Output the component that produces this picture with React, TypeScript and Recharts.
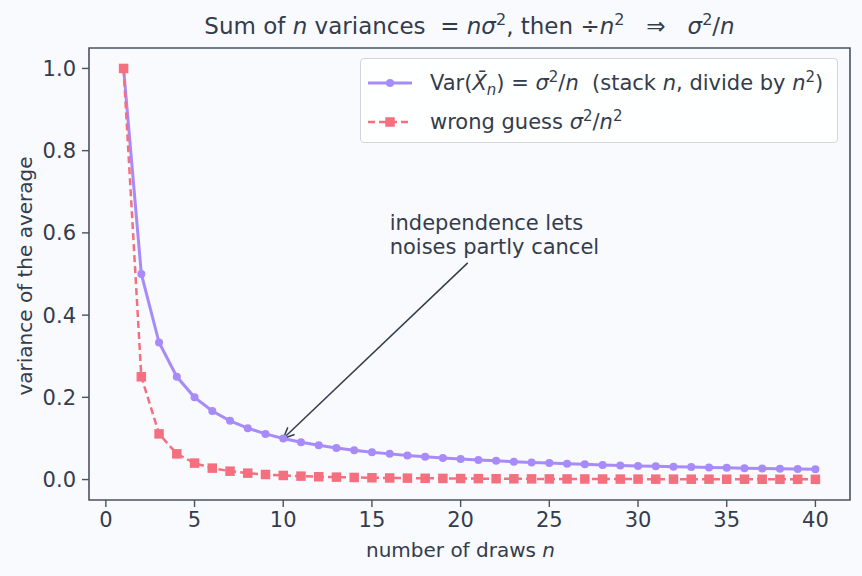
import React from "react";
import {
  LineChart,
  Line,
  XAxis,
  YAxis,
  ReferenceArea,
  ReferenceLine,
  ReferenceDot,
} from "recharts";

// draws n = 1..40
const draws = [
  1, 2, 3, 4, 5, 6, 7, 8, 9, 10, 11, 12, 13, 14, 15, 16, 17, 18, 19, 20,
  21, 22, 23, 24, 25, 26, 27, 28, 29, 30, 31, 32, 33, 34, 35, 36, 37, 38, 39, 40,
];

// Var(mean) = sigma^2 / n  (sigma^2 = 1)
const avgVariance = [
  1, 0.5, 0.3333, 0.25, 0.2, 0.1667, 0.1429, 0.125, 0.1111, 0.1,
  0.0909, 0.0833, 0.0769, 0.0714, 0.0667, 0.0625, 0.0588, 0.0556, 0.0526, 0.05,
  0.0476, 0.0455, 0.0435, 0.0417, 0.04, 0.0385, 0.037, 0.0357, 0.0345, 0.0333,
  0.0323, 0.0313, 0.0303, 0.0294, 0.0286, 0.0278, 0.027, 0.0263, 0.0256, 0.025,
];

// wrong guess sigma^2 / n^2
const wrongGuess = [
  1, 0.25, 0.1111, 0.0625, 0.04, 0.0278, 0.0204, 0.0156, 0.0123, 0.01,
  0.0083, 0.0069, 0.0059, 0.0051, 0.0044, 0.0039, 0.0035, 0.0031, 0.0028, 0.0025,
  0.0023, 0.0021, 0.0019, 0.0017, 0.0016, 0.0015, 0.0014, 0.0013, 0.0012, 0.0011,
  0.001, 0.001, 0.0009, 0.0009, 0.0008, 0.0008, 0.0007, 0.0007, 0.0007, 0.0006,
];

const xTicks = [0, 5, 10, 15, 20, 25, 30, 35, 40];
const yTicks = [0, 0.2, 0.4, 0.6, 0.8, 1.0];

const X_DOMAIN: [number, number] = [-0.95, 41.95];
const Y_DOMAIN: [number, number] = [-0.0497, 1.0497];

// arrow: from below the note to the point (10, 0.1)
const arrowFrom = { x: 20.4, y: 0.527 };
const arrowTo = { x: 10, y: 0.1 };
const noteAt = { x: 16, y: 0.55 };
const noteLines = ["independence lets", "noises partly cancel"];

const PURPLE = "#a78bfa";
const RED = "#f4707f";
const INK = "#343c4c";
const SPINE = "#4b5261";
const BG = "#f9fafd";
const FONT = "'DejaVu Sans', sans-serif";
const FS = 21;
const SUP = 15;

const data = draws.map((n, i) => ({ n, avg: avgVariance[i], wrong: wrongGuess[i] }));

function Square(props: any) {
  const { cx, cy } = props;
  if (cx == null || cy == null) return null;
  return <rect x={cx - 4.75} y={cy - 4.75} width={9.5} height={9.5} fill={RED} />;
}

function Arrow(props: any) {
  const { x1, y1, x2, y2 } = props;
  if (x1 == null) return null;
  const ang = Math.atan2(y2 - y1, x2 - x1);
  const len = 12;
  const spread = 0.42;
  const a1x = x2 - len * Math.cos(ang - spread);
  const a1y = y2 - len * Math.sin(ang - spread);
  const a2x = x2 - len * Math.cos(ang + spread);
  const a2y = y2 - len * Math.sin(ang + spread);
  return (
    <g stroke={INK} strokeWidth={1.5} fill="none">
      <line x1={x1} y1={y1} x2={x2} y2={y2} />
      <polyline points={`${a1x},${a1y} ${x2},${y2} ${a2x},${a2y}`} />
    </g>
  );
}

function Note(props: any) {
  const { cx, cy } = props;
  if (cx == null) return null;
  return (
    <text x={cx} y={cy} fill={INK} fontSize={FS} fontFamily={FONT}>
      {noteLines.map((t, i) => (
        <tspan key={t} x={cx} dy={i === 0 ? -23 : 24}>
          {t}
        </tspan>
      ))}
    </text>
  );
}

const sup = { fontSize: SUP, verticalAlign: "0.55em", lineHeight: 0 } as const;
const sub = { fontSize: SUP, verticalAlign: "-0.3em", lineHeight: 0 } as const;

function LegendBox() {
  return (
    <div
      style={{
        position: "absolute",
        left: 360,
        top: 58,
        width: 478,
        height: 85,
        border: "1px solid #d2d5dc",
        borderRadius: 4,
        background: "rgba(255,255,255,0.85)",
        fontFamily: FONT,
        fontSize: FS,
        color: INK,
        boxSizing: "border-box",
      }}
    >
      <div style={{ position: "absolute", left: 5, top: 11, height: 26, display: "flex", alignItems: "center" }}>
        <svg width={48} height={14}>
          <line x1={2} y1={7} x2={46} y2={7} stroke={PURPLE} strokeWidth={3} />
          <circle cx={24} cy={7} r={4} fill={PURPLE} />
        </svg>
        <span style={{ marginLeft: 16, whiteSpace: "nowrap", lineHeight: "26px" }}>
          Var(<i>X̄</i>
          <sub style={sub}>
            <i>n</i>
          </sub>
          ) = <i>σ</i>
          <sup style={sup}>2</sup>/<i>n</i>&nbsp; (stack <i>n</i>, divide by <i>n</i>
          <sup style={sup}>2</sup>)
        </span>
      </div>
      <div style={{ position: "absolute", left: 5, top: 50, height: 26, display: "flex", alignItems: "center" }}>
        <svg width={48} height={14}>
          <line x1={2} y1={7} x2={46} y2={7} stroke={RED} strokeWidth={2.5} strokeDasharray="7 4" />
          <rect x={19.25} y={2.25} width={9.5} height={9.5} fill={RED} />
        </svg>
        <span style={{ marginLeft: 16, whiteSpace: "nowrap", lineHeight: "26px" }}>
          wrong guess <i>σ</i>
          <sup style={sup}>2</sup>/<i>n</i>
          <sup style={sup}>2</sup>
        </span>
      </div>
    </div>
  );
}

export default function App() {
  return (
    <div
      style={{
        position: "absolute",
        left: 0,
        top: 0,
        width: 862,
        height: 576,
        background: BG,
        fontFamily: FONT,
        color: INK,
      }}
    >
      <div
        style={{
          position: "absolute",
          left: 89,
          width: 761,
          top: 12,
          textAlign: "center",
          fontSize: 23,
          lineHeight: "28px",
          whiteSpace: "nowrap",
        }}
      >
        Sum of <i>n</i> variances &nbsp;= <i>nσ</i>
        <sup style={{ ...sup, fontSize: 16 }}>2</sup>, then ÷<i>n</i>
        <sup style={{ ...sup, fontSize: 16 }}>2</sup>&nbsp;&nbsp; ⇒ &nbsp; <i>σ</i>
        <sup style={{ ...sup, fontSize: 16 }}>2</sup>/<i>n</i>
      </div>

      <LineChart
        width={862}
        height={576}
        data={data}
        margin={{ top: 48, right: 12, bottom: 36, left: 29 }}
        style={{ position: "absolute", left: 0, top: 0 }}
      >
        <XAxis
          dataKey="n"
          type="number"
          domain={X_DOMAIN}
          ticks={xTicks}
          allowDataOverflow
          height={40}
          tickSize={7}
          tickMargin={5}
          axisLine={false}
          tickLine={{ stroke: SPINE, strokeWidth: 1.4 }}
          tick={{ fill: INK, fontSize: FS, fontFamily: FONT }}
        />
        <YAxis
          type="number"
          domain={Y_DOMAIN}
          ticks={yTicks}
          allowDataOverflow
          width={60}
          tickSize={7}
          tickMargin={6}
          axisLine={false}
          tickLine={{ stroke: SPINE, strokeWidth: 1.4 }}
          tickFormatter={(v: number) => v.toFixed(1)}
          tick={{ fill: INK, fontSize: FS, fontFamily: FONT }}
        />
        <ReferenceArea
          x1={X_DOMAIN[0]}
          x2={X_DOMAIN[1]}
          y1={Y_DOMAIN[0]}
          y2={Y_DOMAIN[1]}
          fill="none"
          stroke={SPINE}
          strokeWidth={1.6}
        />
        <Line
          dataKey="avg"
          stroke={PURPLE}
          strokeWidth={3}
          dot={{ r: 4, fill: PURPLE, stroke: "none" }}
          isAnimationActive={false}
        />
        <Line
          dataKey="wrong"
          stroke={RED}
          strokeWidth={2.5}
          strokeDasharray="7 4"
          dot={<Square />}
          isAnimationActive={false}
        />
        <ReferenceLine
          segment={[arrowFrom, arrowTo]}
          shape={<Arrow />}
          ifOverflow="visible"
        />
        <ReferenceDot x={noteAt.x} y={noteAt.y} r={0} shape={<Note />} ifOverflow="visible" />
      </LineChart>

      <div
        style={{
          position: "absolute",
          left: 80,
          width: 761,
          top: 538,
          textAlign: "center",
          fontSize: 20,
        }}
      >
        number of draws <i>n</i>
      </div>
      <div
        style={{
          position: "absolute",
          left: 25,
          top: 276,
          transform: "translate(-50%, -50%) rotate(-90deg)",
          fontSize: 20,
          whiteSpace: "nowrap",
        }}
      >
        variance of the average
      </div>

      <LegendBox />
    </div>
  );
}
